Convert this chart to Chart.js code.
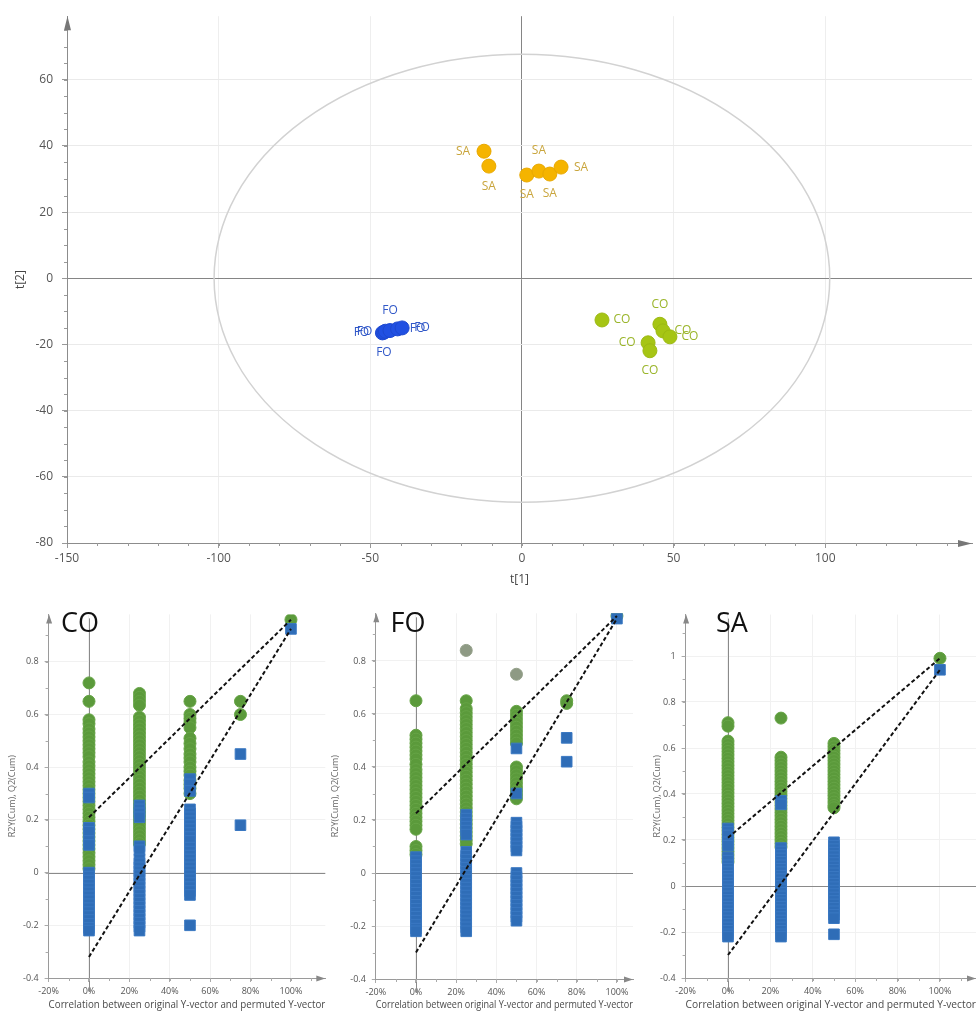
<!DOCTYPE html>
<html><head><meta charset="utf-8">
<script src="https://cdn.jsdelivr.net/npm/chart.js@4.4.1/dist/chart.umd.min.js"></script>
<style>
html,body{margin:0;padding:0;background:#fff;overflow:hidden;width:976px;height:1015px;position:relative;}
canvas{position:absolute;}
#top{left:0;top:0;}
#co{left:0;top:590px;}
#fo{left:328px;top:590px;}
#sa{left:645px;top:590px;}
</style></head><body>
<canvas id="top" width="976" height="590"></canvas>
<canvas id="co" width="328" height="425"></canvas>
<canvas id="fo" width="308" height="425"></canvas>
<canvas id="sa" width="337" height="425"></canvas>
<script>
// ---------- score plot data ----------
const xTicksTop = [-150, -100, -50, 0, 50, 100];
const yTicksTop = [-80, -60, -40, -20, 0, 20, 40, 60];
const groupNames = ['SA', 'FO', 'CO'];
const saT1 = [-12.5, -10.9, 1.6, 5.6, 9.2, 12.9];
const saT2 = [38.4, 33.9, 31.2, 32.4, 31.5, 33.6];
const foT1 = [-46.0, -45.5, -45.0, -43.5, -41.0, -39.5];
const foT2 = [-16.5, -16.3, -16.0, -15.8, -15.3, -15.0];
const coT1 = [26.4, 45.5, 46.5, 48.8, 41.6, 42.2];
const coT2 = [-12.6, -13.9, -15.9, -17.7, -19.5, -21.9];
const ellipseT1 = 101.5, ellipseT2 = 67.7;   // Hotelling T2 ellipse semi-axes

// ---------- permutation plot data ----------
const permX = [0, 25, 50, 75, 100];
const permXTicks = [-20, 0, 20, 40, 60, 80, 100];
const permYTicks = [-0.4, -0.2, 0, 0.2, 0.4, 0.6, 0.8];
const permYTicksSA = [-0.4, -0.2, 0, 0.2, 0.4, 0.6, 0.8, 1];
const panelNames = ['CO', 'FO', 'SA'];

const coR2 = [
  [0.72,0.65,0.58,0.565,0.545,0.53,0.515,0.5,0.485,0.47,0.455,0.44,0.42,0.405,0.39,0.375,0.36,0.345,0.33,0.315,0.3,0.285,0.27,0.255,0.24,0.225,0.21,0.195,0.18,0.165,0.15,0.135,0.12,0.105,0.09,0.075,0.06,0.045,0.03,0.015],
  [0.68,0.665,0.65,0.635,0.59,0.575,0.56,0.545,0.53,0.515,0.5,0.485,0.47,0.455,0.44,0.425,0.41,0.395,0.38,0.365,0.35,0.335,0.32,0.305,0.29,0.275,0.26,0.245,0.23,0.215,0.2,0.185,0.17,0.155,0.14,0.125,0.11],
  [0.65,0.6,0.585,0.57,0.55,0.51,0.49,0.47,0.45,0.435,0.42,0.4,0.385,0.37,0.35,0.335,0.32,0.3],
  [0.65,0.6],
  [0.96]
];
const coQ2 = [
  [0.3,0.285,0.17,0.155,0.12,0.105,0.0,-0.015,-0.03,-0.045,-0.06,-0.075,-0.09,-0.105,-0.12,-0.135,-0.15,-0.165,-0.18,-0.195,-0.21,-0.22],
  [0.255,0.24,0.225,0.21,0.1,0.085,0.05,0.035,0.02,0.005,-0.01,-0.025,-0.04,-0.055,-0.07,-0.085,-0.1,-0.115,-0.13,-0.145,-0.16,-0.175,-0.19,-0.205,-0.22],
  [0.355,0.335,0.31,0.24,0.225,0.21,0.195,0.18,0.165,0.15,0.135,0.12,0.095,0.08,0.065,0.05,0.035,0.02,0.005,-0.01,-0.025,-0.04,-0.055,-0.07,-0.085,-0.2],
  [0.45,0.18],
  [0.925]
];
const coGrey = [[], [], [], [], []];
const coIntercepts = [0.21, -0.32];

const foR2 = [
  [0.65,0.52,0.505,0.49,0.475,0.46,0.445,0.43,0.41,0.39,0.375,0.36,0.345,0.33,0.315,0.3,0.285,0.27,0.255,0.24,0.225,0.21,0.195,0.18,0.165,0.1,0.085,0.07],
  [0.65,0.62,0.605,0.59,0.575,0.56,0.545,0.53,0.515,0.5,0.485,0.47,0.455,0.44,0.425,0.41,0.395,0.38,0.365,0.35,0.335,0.32,0.305,0.29,0.275,0.26,0.245,0.23,0.215,0.2,0.185,0.17,0.155,0.14,0.125,0.11],
  [0.61,0.595,0.58,0.565,0.55,0.535,0.52,0.505,0.49,0.4,0.385,0.37,0.355,0.34,0.325,0.31,0.295,0.28],
  [0.65,0.64],
  [0.97]
];
const foQ2 = [
  [0.06,0.045,0.03,0.015,0.0,-0.015,-0.03,-0.045,-0.06,-0.075,-0.09,-0.105,-0.12,-0.135,-0.15,-0.165,-0.18,-0.195,-0.21,-0.22],
  [0.22,0.205,0.19,0.175,0.16,0.145,0.08,0.065,0.05,0.035,0.02,0.005,-0.01,-0.025,-0.04,-0.055,-0.07,-0.085,-0.1,-0.115,-0.13,-0.145,-0.16,-0.175,-0.19,-0.205,-0.22],
  [0.47,0.3,0.19,0.175,0.16,0.145,0.13,0.115,0.1,0.085,0.0,-0.015,-0.03,-0.045,-0.06,-0.075,-0.09,-0.105,-0.12,-0.135,-0.15,-0.165,-0.18],
  [0.51,0.42],
  [0.96]
];
const foGrey = [[], [0.84], [0.75], [], []];
const foIntercepts = [0.225, -0.3];

const saR2 = [
  [0.71,0.695,0.63,0.615,0.6,0.585,0.57,0.555,0.54,0.525,0.51,0.495,0.48,0.465,0.45,0.435,0.42,0.405,0.39,0.375,0.36,0.345,0.33,0.315,0.3,0.285,0.27,0.255,0.24,0.225,0.21,0.195,0.18,0.165,0.15,0.135,0.12,0.105],
  [0.73,0.56,0.545,0.53,0.515,0.5,0.485,0.47,0.455,0.44,0.425,0.41,0.395,0.38,0.365,0.35,0.335,0.32,0.305,0.29,0.275,0.26,0.245,0.23,0.215,0.2,0.185,0.17],
  [0.62,0.605,0.59,0.575,0.56,0.545,0.53,0.515,0.5,0.485,0.47,0.455,0.44,0.425,0.41,0.395,0.38,0.365,0.35,0.34],
  [],
  [0.99]
];
const saQ2 = [
  [0.25,0.235,0.22,0.19,0.175,0.125,0.11,0.09,0.075,0.06,0.045,0.03,0.015,0.0,-0.015,-0.03,-0.045,-0.06,-0.075,-0.09,-0.105,-0.12,-0.135,-0.15,-0.165,-0.18,-0.195,-0.21,-0.22],
  [0.37,0.355,0.165,0.15,0.135,0.12,0.105,0.09,0.075,0.06,0.045,0.03,0.015,0.0,-0.015,-0.03,-0.045,-0.06,-0.075,-0.09,-0.105,-0.12,-0.135,-0.15,-0.165,-0.18,-0.195,-0.21,-0.22],
  [0.19,0.175,0.16,0.145,0.13,0.115,0.1,0.085,0.07,0.055,0.04,0.025,0.01,-0.005,-0.02,-0.035,-0.05,-0.065,-0.08,-0.095,-0.11,-0.125,-0.14,-0.21],
  [],
  [0.94]
];
const saGrey = [[], [], [], [], []];
const saIntercepts = [0.21, -0.3];

const xAxisTitle = 'Correlation between original Y-vector and permuted Y-vector';
const yAxisTitle = 'R2Y(Cum), Q2(Cum)';

// ---------- shared plugins ----------
const FONT = "'Open Sans', 'Noto Sans', sans-serif";
Chart.defaults.font.family = FONT;

const axisArrows = {
  id: 'axisArrows',
  afterDraw(chart, args, o) {
    const {ctx, chartArea: {left, right, top, bottom}} = chart;
    ctx.save();
    ctx.fillStyle = o.color;
    ctx.beginPath();
    ctx.moveTo(left + 0.5, top);
    ctx.lineTo(left + 0.5 - o.w, top + o.len);
    ctx.lineTo(left + 0.5 + o.w, top + o.len);
    ctx.closePath(); ctx.fill();
    ctx.beginPath();
    ctx.moveTo(right, bottom + 0.5);
    ctx.lineTo(right - o.len, bottom + 0.5 - o.w);
    ctx.lineTo(right - o.len, bottom + 0.5 + o.w);
    ctx.closePath(); ctx.fill();
    ctx.restore();
  }
};

const minorTicks = {
  id: 'minorTicks',
  afterDraw(chart, args, o) {
    const {ctx, chartArea: {left, bottom}, scales: {x, y}} = chart;
    ctx.save();
    ctx.strokeStyle = o.color; ctx.lineWidth = 1;
    ctx.beginPath();
    const nx = Math.floor((x.max - x.min) / o.xStep + 1e-6);
    for (let i = 1; i <= nx; i++) {
      const px = Math.round(x.getPixelForValue(x.min + i * o.xStep)) + 0.5;
      ctx.moveTo(px, bottom); ctx.lineTo(px, bottom + o.len);
    }
    const ny = Math.floor((y.max - y.min) / o.yStep + 1e-6);
    for (let i = 1; i <= ny; i++) {
      const py = Math.round(y.getPixelForValue(y.min + i * o.yStep)) + 0.5;
      ctx.moveTo(left, py); ctx.lineTo(left - o.len, py);
    }
    ctx.stroke();
    ctx.restore();
  }
};

// ---------- score plot ----------
const ellipsePlugin = {
  id: 'ellipse',
  beforeDatasetsDraw(chart, args, o) {
    const {ctx, scales: {x, y}} = chart;
    const cx = x.getPixelForValue(0), cy = y.getPixelForValue(0);
    const rx = x.getPixelForValue(o.a) - cx, ry = cy - y.getPixelForValue(o.b);
    ctx.save();
    ctx.strokeStyle = o.color; ctx.lineWidth = o.width;
    ctx.beginPath(); ctx.ellipse(cx, cy, rx, ry, 0, 0, Math.PI * 2); ctx.stroke();
    ctx.restore();
  }
};

const pointLabels = {
  id: 'pointLabels',
  afterDatasetsDraw(chart, args, o) {
    const ctx = chart.ctx;
    ctx.save();
    ctx.font = '12px ' + FONT;
    ctx.textAlign = 'center'; ctx.textBaseline = 'middle';
    chart.data.datasets.forEach((ds, i) => {
      const meta = chart.getDatasetMeta(i);
      ctx.fillStyle = ds.labelColor;
      meta.data.forEach((el, j) => {
        const off = o.offsets[ds.labelPlace[j]];
        ctx.fillText(ds.label, el.x + off[0], el.y + off[1]);
      });
    });
    ctx.restore();
  }
};

const pts = (xs, ys) => xs.map((v, i) => ({x: v, y: ys[i]}));

new Chart(document.getElementById('top'), {
  type: 'scatter',
  data: {
    datasets: [
      {label: groupNames[0], data: pts(saT1, saT2), backgroundColor: '#f5b400', borderColor: '#e8a800', labelColor: '#c9a53c',
       labelPlace: ['left', 'below', 'below', 'above', 'below', 'right']},
      {label: groupNames[1], data: pts(foT1, foT2), backgroundColor: '#2150e2', borderColor: '#1d48d0', labelColor: '#3158c8',
       labelPlace: ['left', 'below', 'left', 'above', 'right', 'right']},
      {label: groupNames[2], data: pts(coT1, coT2), backgroundColor: '#a6c514', borderColor: '#9cb912', labelColor: '#9ab52a',
       labelPlace: ['right', 'above', 'right', 'right', 'left', 'below']}
    ]
  },
  options: {
    responsive: false, animation: false,
    elements: {point: {radius: 7, borderWidth: 1}},
    layout: {autoPadding: false, padding: {top: 13, right: 4, left: 0, bottom: 0}},
    plugins: {
      legend: {display: false}, tooltip: {enabled: false},
      ellipse: {a: ellipseT1, b: ellipseT2, color: '#d2d2d2', width: 1.5},
      pointLabels: {offsets: {left: [-21, 0], right: [20, 0], above: [0, -20], below: [0, 20]}},
      axisArrows: {color: '#777', len: 14, w: 3.5},
      minorTicks: {xStep: 10, yStep: 5, len: 3, color: '#999'}
    },
    scales: {
      x: {
        type: 'linear', min: -150, max: 148.4,
        afterBuildTicks: s => { s.ticks = xTicksTop.map(v => ({value: v})); },
        afterFit: s => { s.height = 47; },
        grid: {color: c => (c.tick && c.tick.value === 0) ? '#858585' : '#eeeeee', tickLength: 5, tickColor: '#999'},
        border: {display: true, color: '#8c8c8c'},
        ticks: {font: {size: 12}, color: '#555', padding: 3, maxRotation: 0},
        title: {display: true, text: 't[1]', font: {size: 12}, color: '#444', padding: {top: 0, bottom: 3}}
      },
      y: {
        type: 'linear', min: -80, max: 79.2,
        afterBuildTicks: s => { s.ticks = yTicksTop.map(v => ({value: v})); },
        afterFit: s => { s.width = 67; },
        grid: {color: c => (c.tick && c.tick.value === 0) ? '#858585' : '#eaeaea', tickLength: 5, tickColor: '#999'},
        border: {display: true, color: '#8c8c8c'},
        ticks: {font: {size: 12}, color: '#555', padding: 9},
        title: {display: true, text: 't[2]', font: {size: 12}, color: '#444', padding: {top: 13, bottom: 0}}
      }
    }
  },
  plugins: [ellipsePlugin, pointLabels, axisArrows, minorTicks]
});

// ---------- permutation plots ----------
const zeroLines = {
  id: 'zeroLines',
  beforeDatasetsDraw(chart) {
    const {ctx, chartArea: {left, right, top, bottom}, scales: {x, y}} = chart;
    ctx.save();
    ctx.strokeStyle = '#8a8a8a'; ctx.lineWidth = 1;
    const px = Math.round(x.getPixelForValue(0)) + 0.5;
    const py = Math.round(y.getPixelForValue(0)) + 0.5;
    ctx.beginPath();
    ctx.moveTo(px, top + 4); ctx.lineTo(px, bottom + 14);
    ctx.moveTo(left, py); ctx.lineTo(right, py);
    ctx.stroke();
    ctx.restore();
  }
};

const panelTitle = {
  id: 'panelTitle',
  afterDraw(chart, args, o) {
    const ctx = chart.ctx;
    ctx.save();
    ctx.font = '27px ' + FONT;
    ctx.fillStyle = '#111';
    ctx.textAlign = 'center'; ctx.textBaseline = 'alphabetic';
    ctx.fillText(o.text, o.cx, 42);
    ctx.restore();
  }
};

function colPoints(cols) {
  const out = [];
  permX.forEach((xv, i) => cols[i].forEach(yv => out.push({x: xv, y: yv})));
  return out;
}

function permChart(id, p) {
  const fmtY = v => String(Math.round(v * 10) / 10);
  return new Chart(document.getElementById(id), {
    type: 'scatter',
    data: {
      datasets: [
        {type: 'line', data: [{x: permX[0], y: p.ints[0]}, {x: permX[4], y: p.r2[4][0]}], borderColor: '#111', borderWidth: 2, borderDash: [4, 2.5], pointRadius: 0, fill: false},
        {type: 'line', data: [{x: permX[0], y: p.ints[1]}, {x: permX[4], y: p.q2[4][0]}], borderColor: '#111', borderWidth: 2, borderDash: [4, 2.5], pointRadius: 0, fill: false},
        {data: colPoints(p.q2), pointStyle: 'rect', radius: 7.5, backgroundColor: '#2f6db7', borderColor: '#3a78c2', borderWidth: 1},
        {data: colPoints(p.grey), pointStyle: 'circle', radius: 6, backgroundColor: '#8e9a84', borderColor: '#94a08a', borderWidth: 1},
        {data: colPoints(p.r2), pointStyle: 'circle', radius: 6, backgroundColor: '#5b9a3b', borderColor: '#66a446', borderWidth: 1}
      ]
    },
    options: {
      responsive: false, animation: false,
      layout: {autoPadding: false, padding: {top: p.top, right: p.right, left: 0, bottom: 0}},
      plugins: {
        legend: {display: false}, tooltip: {enabled: false},
        axisArrows: {color: '#888', len: 9, w: 3},
        minorTicks: {xStep: 10, yStep: 0.1, len: 3, color: '#aaa'},
        panelTitle: {text: p.name, cx: p.titleX}
      },
      scales: {
        x: {
          type: 'linear', min: -20, max: p.xMax,
          afterBuildTicks: s => { s.ticks = permXTicks.map(v => ({value: v})); },
          afterFit: s => { s.height = p.xH; },
          grid: {color: '#f1f1f1', tickLength: 4, tickColor: '#aaa'},
          border: {display: true, color: '#9a9a9a'},
          ticks: {font: {size: 9}, color: '#555', padding: 4, maxRotation: 0, callback: v => v + '%'},
          title: {display: true, text: xAxisTitle, align: 'start', font: {size: 10.3}, color: '#4a4a4a', padding: {top: 0, bottom: 4}}
        },
        y: {
          type: 'linear', min: -0.4, max: p.yMax,
          afterBuildTicks: s => { s.ticks = p.yTicks.map(v => ({value: v})); },
          afterFit: s => { s.width = p.yW; },
          grid: {color: '#f1f1f1', tickLength: 4, tickColor: '#aaa'},
          border: {display: true, color: '#9a9a9a'},
          ticks: {font: {size: 9}, color: '#555', padding: 6, callback: fmtY},
          title: {display: true, text: yAxisTitle, font: {size: 9}, color: '#666', padding: {top: p.yTitlePad, bottom: 0}}
        }
      }
    },
    plugins: [zeroLines, axisArrows, minorTicks, panelTitle]
  });
}

permChart('co', {name: panelNames[0], r2: coR2, q2: coQ2, grey: coGrey, ints: coIntercepts, yTicks: permYTicks,
  xMax: 117, yMax: 0.98, top: 24.4, right: 2.7, yW: 48.6, xH: 37, yTitlePad: 6.6, titleX: 80});
permChart('fo', {name: panelNames[1], r2: foR2, q2: foQ2, grey: foGrey, ints: foIntercepts, yTicks: permYTicks,
  xMax: 108, yMax: 0.98, top: 23.3, right: 3, yW: 47.8, xH: 36, yTitlePad: 1.6, titleX: 80});
permChart('sa', {name: panelNames[2], r2: saR2, q2: saQ2, grey: saGrey, ints: saIntercepts, yTicks: permYTicksSA,
  xMax: 117, yMax: 1.18, top: 24.6, right: 6, yW: 40.6, xH: 37, yTitlePad: 6.6, titleX: 87});
</script>
</body></html>
